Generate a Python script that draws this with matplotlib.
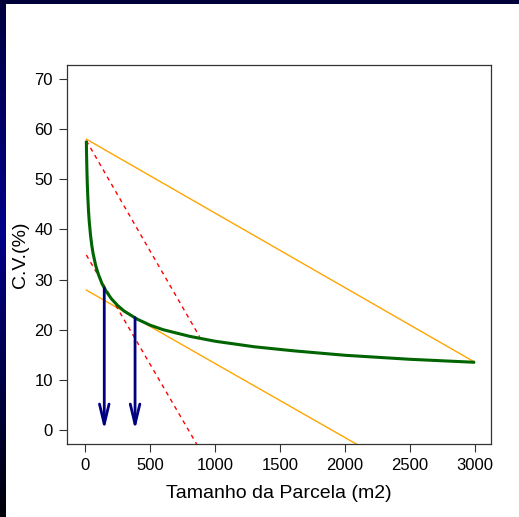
import numpy as np
import matplotlib
matplotlib.use("Agg")
import matplotlib.pyplot as plt
from matplotlib.colors import LinearSegmentedColormap

plt.rcParams['font.family'] = ['Liberation Sans', 'DejaVu Sans']

# Fitted CV curve
plot_size = [8, 9, 10, 12, 15, 20, 25, 30, 40, 50, 60, 80, 100, 130, 160, 200,
             250, 300, 400, 500, 600, 800, 1000, 1300, 1600, 2000, 2500, 3000]
cv = [57.7, 56.0, 54.6, 52.2, 49.4, 46.1, 43.6, 41.7, 38.9, 36.8, 35.2, 32.8,
      31.1, 29.1, 27.7, 26.2, 24.8, 23.7, 22.1, 20.9, 20.0, 18.7, 17.7, 16.6,
      15.8, 14.9, 14.1, 13.5]

# Orange lines (chord and parallel tangent)
orange1_x = [8, 3000]
orange1_y = [58.0, 13.5]
orange2_x = [8, 2100]
orange2_y = [27.9, -3.0]

# Red dashed lines (chord and parallel tangent)
red1_x = [8, 880]
red1_y = [57.7, 18.6]
red2_x = [8, 857]
red2_y = [34.9, -2.8]

# Arrows marking optimal plot sizes
arrow_x = [146, 383]
arrow_top = [28.3, 22.4]
arrow_bottom = [0, 0]

xticks = [0, 500, 1000, 1500, 2000, 2500, 3000]
yticks = [0, 10, 20, 30, 40, 50, 60, 70]

W, H = 519, 517
fig = plt.figure(figsize=(W / 100, H / 100), dpi=100, facecolor='white')

# slide background strips
cmap = LinearSegmentedColormap.from_list('bg', [(0, '#000040'), (0.45, '#00008a'), (1.0, '#000008')])
bg = fig.add_axes([0, 0, 6 / W, 1])
bg.imshow(np.linspace(0, 1, 256).reshape(-1, 1), aspect='auto', cmap=cmap, extent=[0, 1, 1, 0])
bg.axis('off')
top = fig.add_axes([0, 1 - 4 / H, 1, 4 / H])
top.set_facecolor('#000038')
top.set_xticks([]); top.set_yticks([])
for s in top.spines.values():
    s.set_visible(False)

left, right, ptop, pbot = 66.7, 490.7, 64.7, 444.0
ax = fig.add_axes([left / W, 1 - pbot / H, (right - left) / W, (pbot - ptop) / H])

ax.plot(orange1_x, orange1_y, color='orange', lw=1.0)
ax.plot(orange2_x, orange2_y, color='orange', lw=1.0)
ax.plot(red1_x, red1_y, color='red', lw=1.0, dashes=(3, 3))
ax.plot(red2_x, red2_y, color='red', lw=1.0, dashes=(3, 3))
ax.plot(plot_size, cv, color='#006400', lw=2.2, solid_capstyle='butt')

for xa, yt, yb in zip(arrow_x, arrow_top, arrow_bottom):
    ax.annotate('', xy=(xa, yb), xytext=(xa, yt),
                arrowprops=dict(arrowstyle='->,head_length=1.0,head_width=0.24',
                                mutation_scale=14.4, color='#000080', lw=2.0,
                                shrinkA=0, shrinkB=0))

px_x = (475 - 85.3) / 3000.0
px_y = (430 - 79) / 70.0
ax.set_xlim(-(85.3 - left) / px_x, 3000 + (right - 475) / px_x)
ax.set_ylim(-(pbot - 430) / px_y, 70 + (79 - ptop) / px_y)

ax.set_xticks(xticks)
ax.set_yticks(yticks)
ax.tick_params(axis='both', length=5.5, width=0.8, color='#333333', labelsize=12, pad=4.5)
for s in ax.spines.values():
    s.set_color('#333333')
    s.set_linewidth(0.9)

ax.set_xlabel('Tamanho da Parcela (m2)', fontsize=14)
ax.set_ylabel('C.V.(%)', fontsize=14)
ax.xaxis.set_label_coords(0.5, (pbot - 494) / (pbot - ptop), transform=ax.transAxes)
ax.yaxis.set_label_coords((20.5 - left) / (right - left), 0.5, transform=ax.transAxes)
ax.xaxis.label.set_va('center')
ax.yaxis.label.set_va('center')

fig.savefig('out.png', dpi=100, facecolor='white')
